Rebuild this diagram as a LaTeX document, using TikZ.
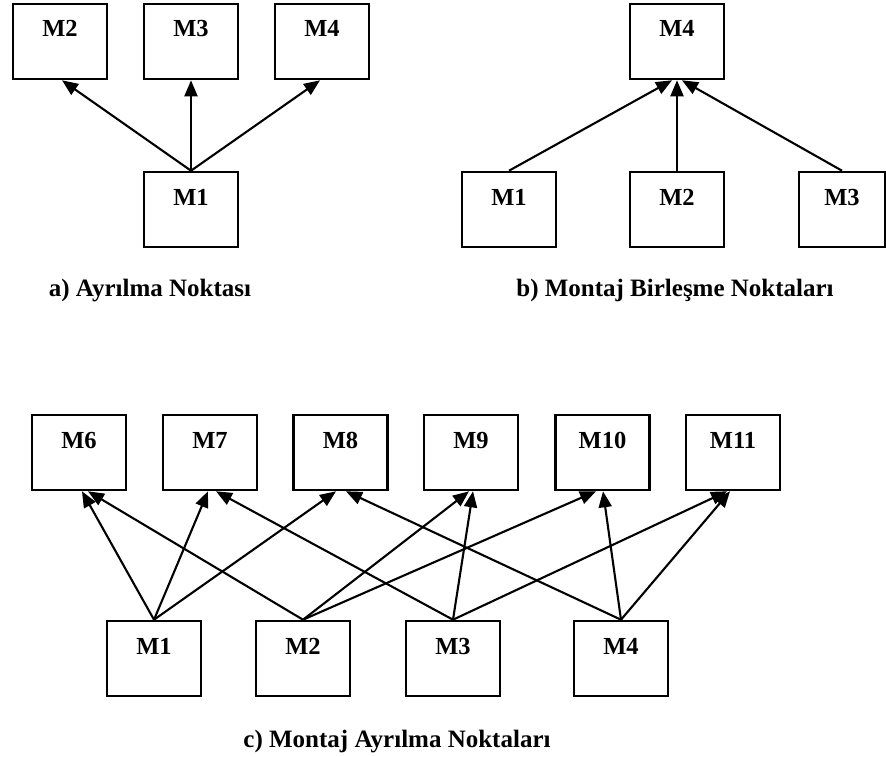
\documentclass[tikz,border=0pt]{standalone}
\usepackage{fontspec}
\setmainfont{Liberation Serif}
\usetikzlibrary{arrows.meta}
\begin{document}
\begin{tikzpicture}[x=1pt,y=-1pt,
  box/.style={draw, line width=2.6pt, inner sep=0pt, minimum width=94pt,
    text height=33pt, text depth=42pt,
    font=\fontsize{24.5}{24.5}\selectfont\bfseries},
  arr/.style={line width=2.1pt, -{Triangle[length=16pt,width=13pt]}},
  caption/.style={anchor=base, inner sep=0pt,
    font=\fontsize{25}{25}\selectfont\bfseries}]
\useasboundingbox (0,0) rectangle (886,757);

% a) one machine feeding three
\node[box] (a2) at (60,41.5) {M2};
\node[box] (a3) at (191,41.5) {M3};
\node[box] (a4) at (322,41.5) {M4};
\node[box] (a1) at (191,209.5) {M1};
\draw[arr] (a1.north) -- ([xshift=2pt]a2.south);
\draw[arr] (a1.north) -- (a3.south);
\draw[arr] (a1.north) -- ([xshift=-2pt]a4.south);
\node[caption] (capa) at (150,296) {a) Ayrılma Noktası};

% b) three machines joining into one
\node[box] (b4) at (677,41.5) {M4};
\node[box] (b1) at (509,209.5) {M1};
\node[box] (b2) at (677,209.5) {M2};
\node[box, minimum width=86pt] (b3) at (842,209.5) {M3};
\draw[arr] (b1.north) -- ([xshift=-5pt]b4.south);
\draw[arr] (b2.north) -- (b4.south);
\draw[arr] (b3.north) -- ([xshift=5pt]b4.south);
\node[caption] (capb) at (675,296) {b) Montaj Birleşme Noktaları};

% c) four machines feeding six
\node[box] (c6) at (79,452.5) {M6};
\node[box] (c7) at (210,452.5) {M7};
\node[box] (c8) at (340.5,452.5) {M8};
\node[box] (c9) at (471,452.5) {M9};
\node[box] (c10) at (602.5,452.5) {M10};
\node[box] (c11) at (733,452.5) {M11};
\node[box] (c1) at (154,658.5) {M1};
\node[box] (c2) at (303,658.5) {M2};
\node[box] (c3) at (453,658.5) {M3};
\node[box] (c4) at (621,658.5) {M4};

\draw[arr] (c1.north) -- ([xshift=3pt]c6.south);
\draw[arr] (c1.north) -- ([xshift=-2pt]c7.south);
\draw[arr] (c1.north) -- ([xshift=-4.5pt]c8.south);
\draw[arr] (c2.north) -- ([xshift=9pt]c6.south);
\draw[arr] (c2.north) -- ([xshift=-2pt]c9.south);
\draw[arr] (c2.north) -- ([xshift=-6.5pt]c10.south);
\draw[arr] (c3.north) -- ([xshift=6pt]c7.south);
\draw[arr] (c3.north) -- ([xshift=2pt]c9.south);
\draw[arr] (c3.north) -- ([xshift=-6pt]c11.south);
\draw[arr] (c4.north) -- ([xshift=5.5pt]c8.south);
\draw[arr] (c4.north) -- ([xshift=0.5pt]c10.south);
\draw[arr] (c4.north) -- ([xshift=-3pt]c11.south);
\node[caption] (capc) at (397,747) {c) Montaj Ayrılma Noktaları};
\end{tikzpicture}
\end{document}
